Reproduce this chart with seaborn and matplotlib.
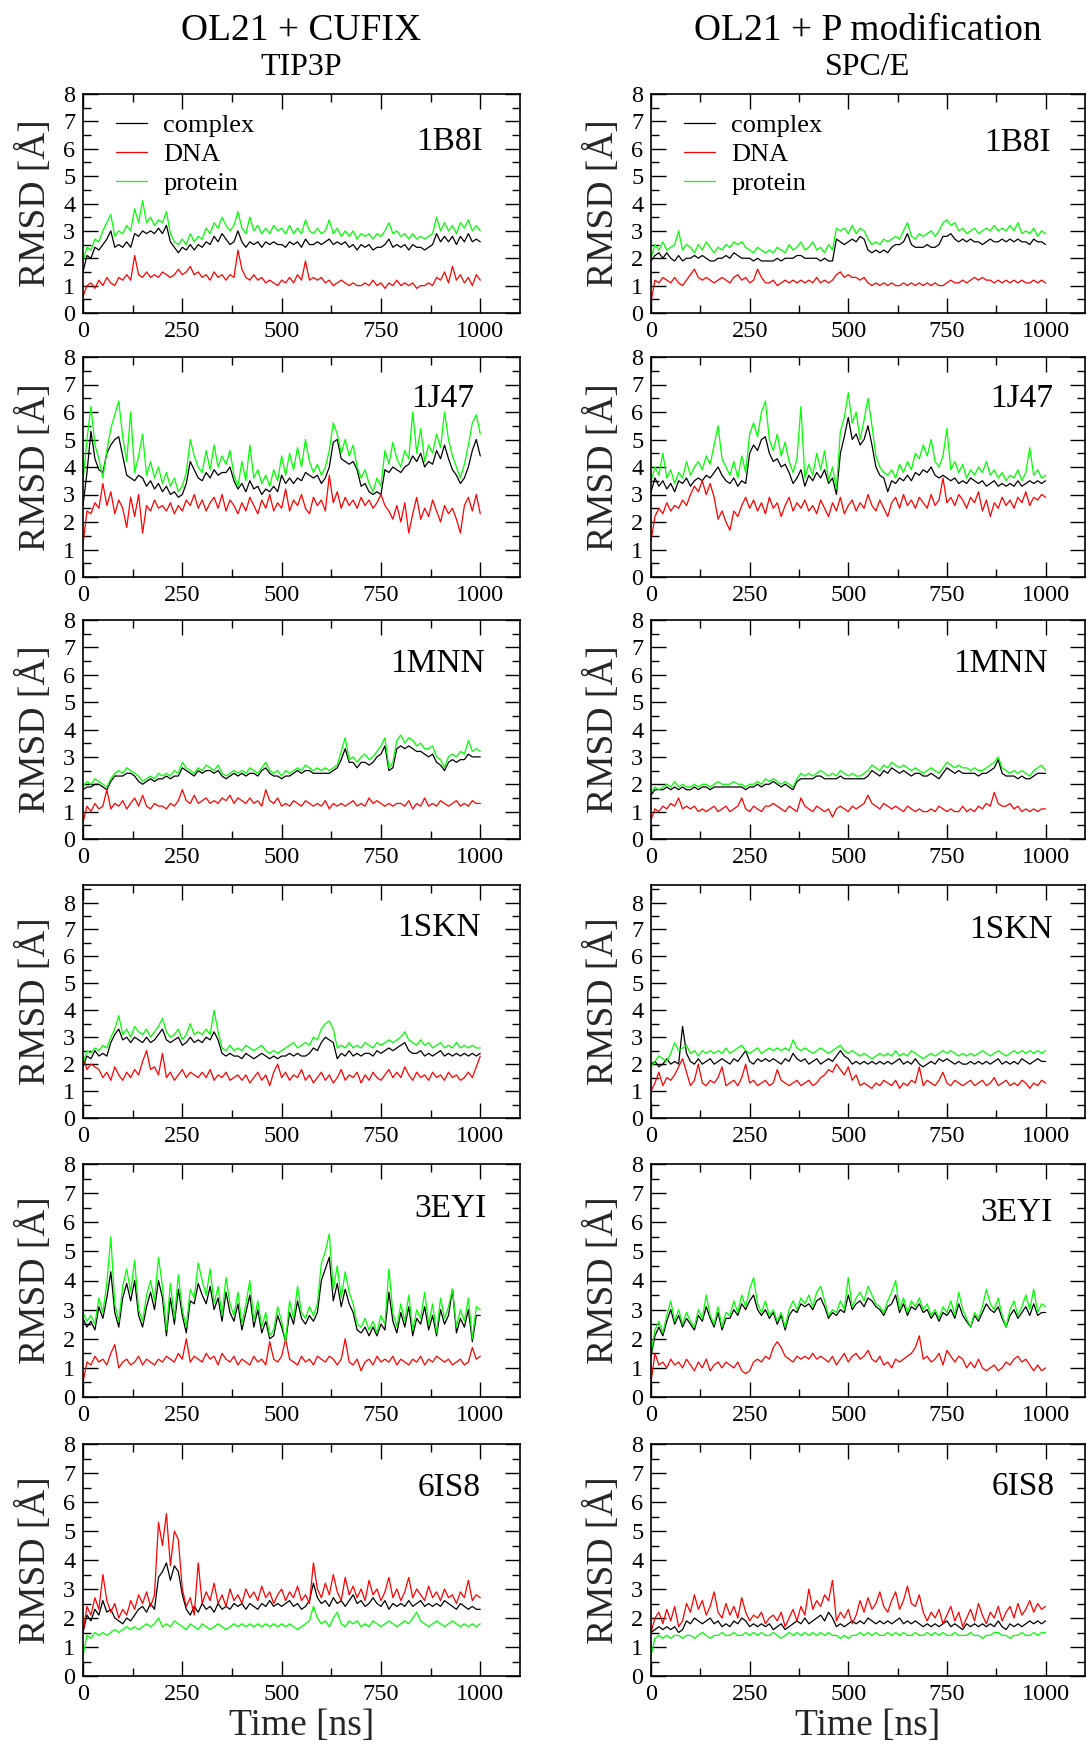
import numpy as np
import pandas as pd
import matplotlib
matplotlib.use("Agg")
import matplotlib.pyplot as plt
from matplotlib.ticker import MultipleLocator, FixedLocator
import seaborn as sns

# ---------------------------------------------------------------------------
# RMSD traces (Angstrom), sampled every 10 ns over the 1 us trajectories
# ---------------------------------------------------------------------------
TIME_NS = np.arange(0, 1001, 10)

SYSTEMS = ["1B8I", "1J47", "1MNN", "1SKN", "3EYI", "6IS8"]
COMPONENTS = ["complex", "DNA", "protein"]
COLORS = {"complex": "#000000", "DNA": "#ff0000", "protein": "#00ff00"}
COLUMN_TITLES = [("OL21 + CUFIX", "TIP3P"), ("OL21 + P modification", "SPC/E")]

# --- OL21 + CUFIX / TIP3P ---------------------------------------------------
cufix_1b8i_protein = [1.9,2.4,2.3,2.7,2.6,3.0,3.3,3.6,2.8,3.0,
 2.9,3.2,3.0,3.8,3.3,4.1,3.3,3.5,3.2,3.4,
 3.3,3.7,2.9,2.6,2.5,2.7,2.5,2.9,2.6,2.8,
 2.7,3.1,2.9,3.3,3.1,3.5,3.2,3.0,3.2,3.7,
 3.1,2.9,3.5,3.0,3.2,2.9,3.1,2.9,3.2,3.0,
 3.1,2.9,3.2,2.9,3.1,2.9,3.4,3.0,2.9,3.1,
 2.9,3.0,3.4,2.9,3.1,2.8,3.0,2.8,3.0,2.7,
 2.9,2.8,2.9,2.7,2.9,2.8,3.0,3.3,2.9,3.0,
 2.8,2.9,2.7,2.9,2.7,2.8,2.7,2.8,2.9,3.5,
 3.0,3.3,3.0,3.2,2.9,3.3,3.1,3.4,3.0,3.2,
 3.0]
cufix_1b8i_complex = [1.5,2.1,2.0,2.4,2.3,2.5,2.7,3.0,2.4,2.5,
 2.4,2.6,2.4,2.9,2.8,3.0,2.9,3.0,2.9,3.1,
 2.9,3.2,2.6,2.4,2.2,2.4,2.3,2.5,2.3,2.5,
 2.4,2.6,2.5,2.8,2.6,2.9,2.7,2.5,2.6,3.0,
 2.6,2.4,2.6,2.5,2.6,2.4,2.6,2.5,2.6,2.5,
 2.5,2.4,2.6,2.5,2.6,2.4,2.7,2.5,2.5,2.6,
 2.5,2.6,2.7,2.5,2.6,2.5,2.6,2.4,2.5,2.3,
 2.5,2.4,2.5,2.3,2.4,2.4,2.5,2.7,2.4,2.5,
 2.4,2.5,2.3,2.5,2.4,2.4,2.3,2.4,2.5,2.9,
 2.6,2.8,2.6,2.8,2.5,2.8,2.6,2.9,2.6,2.7,
 2.6]
cufix_1b8i_dna = [0.6,1.0,1.1,0.9,1.2,1.0,1.3,1.1,1.0,1.3,
 1.2,1.4,1.2,2.1,1.4,1.3,1.5,1.3,1.4,1.3,
 1.5,1.4,1.3,1.4,1.6,1.4,1.5,1.7,1.4,1.5,
 1.3,1.4,1.2,1.5,1.3,1.4,1.2,1.4,1.3,2.3,
 1.6,1.3,1.2,1.4,1.2,1.3,1.1,1.2,1.1,1.0,
 1.2,1.1,1.3,1.1,1.4,1.2,1.9,1.2,1.3,1.2,
 1.3,1.1,1.2,1.0,1.1,1.2,1.1,1.0,1.1,1.0,
 1.0,1.1,1.0,1.2,1.0,1.1,0.9,1.1,1.0,1.2,
 1.0,1.1,1.0,1.1,0.9,1.0,1.0,1.1,1.0,1.3,
 1.2,1.5,1.1,1.7,1.2,1.4,1.1,1.3,1.0,1.4,
 1.2]

cufix_1j47_protein = [3.5,5.0,6.2,4.8,4.3,3.6,4.6,5.4,5.9,6.4,
 5.1,4.2,6.0,3.8,4.4,5.2,3.7,4.2,3.6,4.0,
 3.4,3.8,3.3,3.6,3.1,3.3,3.8,5.0,4.4,4.0,
 3.8,4.6,3.9,4.8,4.0,4.4,4.1,4.6,3.7,3.3,
 4.2,3.5,4.8,3.6,3.9,3.4,3.7,3.3,3.9,3.5,
 4.4,3.7,4.5,3.9,4.7,4.0,5.0,4.2,3.8,4.1,
 3.7,4.0,4.6,5.6,5.2,4.5,5.0,4.4,4.8,4.0,
 3.6,3.9,3.4,3.1,3.6,3.3,4.6,4.1,4.9,4.3,
 4.0,4.6,4.3,6.0,4.5,5.4,4.2,4.8,4.5,5.2,
 4.7,6.0,5.0,4.4,4.0,3.6,4.1,4.8,5.6,5.9,
 5.2]
cufix_1j47_complex = [2.6,3.8,5.3,4.3,3.9,3.8,4.5,4.8,5.0,5.1,
 4.4,3.7,3.6,3.5,3.7,3.6,3.3,3.5,3.2,3.4,
 3.1,3.3,3.0,3.1,2.9,3.0,3.4,4.2,3.9,3.6,
 3.5,3.8,3.6,3.9,3.7,3.8,3.8,4.0,3.5,3.2,
 3.4,3.1,3.5,3.2,3.3,3.0,3.2,3.1,3.3,3.1,
 3.7,3.4,3.6,3.4,3.6,3.5,3.8,3.7,3.6,3.7,
 3.4,3.6,4.0,4.9,5.0,4.3,4.2,4.1,4.2,3.9,
 3.3,3.4,3.1,3.0,3.1,3.0,3.9,3.8,4.0,3.9,
 3.8,4.0,4.1,4.4,4.2,4.5,4.0,4.2,4.1,4.6,
 4.3,4.8,4.3,3.9,3.7,3.4,3.6,4.0,4.6,5.0,
 4.4]
cufix_1j47_dna = [1.2,2.4,2.3,2.7,2.5,3.4,2.6,3.1,2.3,2.8,
 2.5,1.8,2.9,2.2,3.0,1.6,2.6,2.4,2.8,2.5,
 2.6,2.4,2.7,2.3,2.6,2.4,2.8,2.6,3.0,2.5,
 2.8,2.4,2.7,2.9,2.5,3.0,2.4,2.8,2.6,2.3,
 2.7,2.4,2.9,2.6,2.3,2.8,2.5,3.0,2.4,2.7,
 2.5,3.2,2.4,2.8,2.6,3.0,2.5,2.3,2.9,2.6,
 2.8,2.4,3.7,2.7,3.1,2.5,2.9,2.6,2.8,2.5,
 2.9,2.6,2.8,2.5,2.7,3.0,2.6,2.4,2.1,2.6,
 2.0,2.7,1.6,2.3,2.9,2.1,2.5,2.2,2.8,2.4,
 2.0,2.6,2.3,2.5,2.1,1.6,2.6,2.9,2.4,3.0,
 2.3]

cufix_1mnn_protein = [1.9,2.1,2.0,2.2,2.1,2.0,1.9,2.2,2.4,2.5,
 2.4,2.6,2.5,2.4,2.3,2.1,2.2,2.3,2.2,2.4,
 2.3,2.4,2.3,2.5,2.4,2.8,2.6,2.5,2.4,2.6,
 2.5,2.7,2.6,2.5,2.7,2.4,2.3,2.4,2.5,2.4,
 2.5,2.4,2.6,2.5,2.4,2.6,2.8,2.5,2.4,2.5,
 2.3,2.5,2.4,2.5,2.6,2.5,2.7,2.6,2.5,2.6,
 2.5,2.6,2.5,2.6,2.7,3.2,3.7,2.9,3.0,2.8,
 3.0,3.1,2.9,3.0,3.2,3.4,3.7,2.6,2.8,3.6,
 3.8,3.5,3.7,3.6,3.4,3.5,3.3,3.3,3.4,3.0,
 2.9,2.6,3.0,3.1,3.0,3.2,3.1,3.6,3.2,3.3,
 3.2]
cufix_1mnn_complex = [1.8,1.9,1.9,2.0,2.0,1.9,1.8,2.1,2.3,2.3,
 2.3,2.4,2.4,2.3,2.1,2.0,2.1,2.2,2.1,2.2,
 2.2,2.3,2.2,2.3,2.3,2.6,2.5,2.4,2.3,2.5,
 2.4,2.5,2.5,2.4,2.5,2.3,2.2,2.3,2.4,2.3,
 2.4,2.3,2.4,2.4,2.3,2.5,2.6,2.4,2.3,2.3,
 2.2,2.3,2.3,2.4,2.5,2.4,2.5,2.5,2.4,2.4,
 2.4,2.4,2.4,2.5,2.6,2.9,3.3,2.8,2.8,2.6,
 2.8,2.8,2.7,2.8,3.0,3.1,3.4,2.5,2.6,3.3,
 3.4,3.3,3.4,3.3,3.2,3.2,3.1,3.0,3.1,2.8,
 2.7,2.5,2.8,2.9,2.8,2.9,2.9,3.1,3.0,3.0,
 3.0]
cufix_1mnn_dna = [0.6,1.2,1.0,1.3,1.1,1.2,1.8,1.1,1.3,1.2,
 1.4,1.1,1.3,1.5,1.2,1.6,1.2,1.1,1.3,1.2,
 1.2,1.1,1.3,1.2,1.4,1.8,1.4,1.3,1.6,1.3,
 1.4,1.5,1.3,1.4,1.3,1.5,1.4,1.6,1.3,1.5,
 1.4,1.3,1.5,1.3,1.4,1.2,1.8,1.4,1.3,1.5,
 1.2,1.3,1.2,1.4,1.3,1.2,1.4,1.3,1.2,1.3,
 1.2,1.4,1.1,1.3,1.2,1.3,1.2,1.3,1.4,1.2,
 1.3,1.2,1.5,1.3,1.4,1.3,1.2,1.3,1.2,1.3,
 1.3,1.2,1.4,1.1,1.3,1.2,1.5,1.2,1.3,1.2,
 1.4,1.3,1.2,1.3,1.4,1.2,1.3,1.2,1.4,1.3,
 1.3]

cufix_1skn_protein = [2.0,2.5,2.4,2.6,2.5,2.7,2.6,3.0,3.3,3.8,
 3.1,3.3,3.0,3.4,3.2,3.1,3.3,3.0,3.2,3.4,
 3.7,3.2,3.0,3.1,3.3,2.9,3.1,3.5,3.1,3.2,
 3.1,3.3,3.1,4.0,3.2,2.6,2.5,2.7,2.5,2.6,
 2.5,2.7,2.6,2.5,2.6,2.7,2.5,2.4,2.5,2.4,
 2.5,2.6,2.7,2.8,2.6,2.7,2.8,2.7,3.0,2.9,
 3.3,3.5,3.6,3.3,2.6,2.7,2.6,2.8,2.6,2.7,
 2.6,2.8,2.7,2.6,2.8,2.7,2.8,2.9,2.8,2.9,
 3.0,3.2,2.9,2.8,2.7,2.9,2.7,2.8,2.6,2.7,
 2.8,2.6,2.7,2.6,2.8,2.6,2.7,2.6,2.7,2.6,
 2.6]
cufix_1skn_complex = [1.9,2.3,2.2,2.5,2.3,2.4,2.3,2.8,3.1,3.3,
 2.9,3.0,2.8,3.0,2.9,2.8,3.0,2.8,2.9,3.1,
 3.3,2.9,2.8,2.9,3.0,2.7,2.8,3.0,2.8,2.9,
 2.8,3.0,2.9,3.2,2.9,2.4,2.3,2.4,2.3,2.3,
 2.2,2.4,2.3,2.2,2.3,2.4,2.3,2.2,2.3,2.2,
 2.3,2.3,2.4,2.3,2.4,2.3,2.3,2.4,2.6,2.5,
 2.8,3.0,2.9,2.8,2.2,2.4,2.3,2.5,2.3,2.4,
 2.3,2.4,2.4,2.3,2.5,2.4,2.5,2.6,2.5,2.6,
 2.7,2.8,2.5,2.4,2.4,2.5,2.3,2.4,2.3,2.4,
 2.5,2.3,2.4,2.3,2.4,2.3,2.4,2.3,2.4,2.3,
 2.4]
cufix_1skn_dna = [2.3,1.8,2.0,1.9,1.8,1.5,1.7,1.4,1.9,1.6,
 1.4,1.7,1.5,1.8,1.6,2.1,2.5,1.8,1.9,1.6,
 2.4,1.5,1.7,1.4,1.6,1.8,1.5,1.7,1.6,1.5,
 1.7,1.5,1.8,1.4,1.6,1.5,1.7,1.4,1.5,1.6,
 1.4,1.6,1.3,1.5,1.7,1.4,1.6,1.2,1.7,2.0,
 1.5,1.7,1.4,1.6,1.5,1.8,1.4,1.6,1.3,1.5,
 1.7,1.4,1.6,1.3,1.5,1.8,1.4,1.6,1.5,1.7,
 1.3,1.6,1.4,1.7,1.5,1.4,1.6,1.8,1.5,1.7,
 1.5,1.9,1.6,1.4,1.7,1.5,1.6,1.4,1.7,1.5,
 1.6,1.4,1.7,1.5,1.6,1.4,1.5,1.7,1.5,1.9,
 2.3]

cufix_3eyi_protein = [2.9,2.6,2.8,2.5,3.4,2.9,3.9,5.5,3.2,2.6,
 3.8,4.4,3.6,4.7,3.0,2.6,3.5,4.0,3.3,4.8,
 3.8,2.3,3.9,2.7,4.2,3.0,2.4,3.7,3.4,4.6,
 4.0,3.5,4.4,3.2,3.8,2.8,4.1,3.2,2.8,3.6,
 2.5,3.2,4.0,2.6,3.3,2.4,2.9,2.1,2.3,3.1,
 2.6,1.9,3.3,2.7,3.8,2.9,2.7,3.1,2.8,3.2,
 4.6,5.0,5.6,3.7,4.5,3.4,4.3,3.6,3.2,2.5,
 2.4,2.7,2.3,2.6,2.2,2.8,2.5,4.4,2.9,2.4,
 3.2,2.6,3.5,2.3,3.0,2.7,3.6,2.5,3.2,2.2,
 3.4,2.7,3.1,3.7,2.4,3.0,2.6,3.4,2.0,3.1,
 3.0]
cufix_3eyi_complex = [2.7,2.4,2.6,2.3,3.1,2.7,3.4,4.3,2.9,2.4,
 3.4,3.9,3.3,4.0,2.8,2.4,3.1,3.6,3.0,4.0,
 3.4,2.1,3.4,2.5,3.7,2.8,2.2,3.3,3.2,3.9,
 3.5,3.2,3.8,3.0,3.4,2.6,3.6,2.9,2.6,3.2,
 2.3,2.9,3.5,2.4,3.0,2.2,2.6,2.0,2.1,2.8,
 2.4,1.9,2.9,2.5,3.3,2.7,2.5,2.8,2.6,2.9,
 4.0,4.4,4.8,3.3,3.9,3.1,3.7,3.2,2.9,2.3,
 2.2,2.4,2.1,2.4,2.1,2.5,2.3,3.6,2.6,2.2,
 2.9,2.4,3.1,2.1,2.7,2.5,3.1,2.3,2.8,2.1,
 3.0,2.5,2.8,3.7,2.2,2.7,2.4,3.0,1.9,2.8,
 2.8]
cufix_3eyi_dna = [0.5,1.2,1.1,1.4,1.2,1.3,1.1,1.5,1.8,1.0,
 1.2,1.3,1.1,1.2,1.4,1.1,1.3,1.2,1.1,1.3,
 1.2,1.4,1.3,1.2,1.5,1.3,2.0,1.2,1.4,1.3,
 1.2,1.5,1.3,1.4,1.1,1.5,1.3,1.2,1.4,1.1,
 1.3,1.2,1.1,1.4,1.2,1.3,1.1,1.9,1.3,1.2,
 1.4,2.0,1.3,1.2,1.1,1.4,1.2,1.3,1.1,1.4,
 1.3,1.2,1.4,1.3,1.1,1.3,2.0,1.2,1.1,1.3,
 0.9,1.2,1.3,1.1,1.4,1.2,1.3,1.2,1.4,1.1,
 1.3,1.2,1.1,1.3,1.2,1.4,1.1,1.3,1.2,1.4,
 1.3,1.2,1.3,1.1,1.2,1.3,1.1,1.2,1.7,1.3,
 1.4]

cufix_6is8_protein = [0.7,1.4,1.3,1.5,1.4,1.5,1.4,1.5,1.6,1.5,
 1.6,1.7,1.6,1.7,1.6,1.7,1.8,1.7,1.8,2.0,
 1.7,1.8,1.7,1.9,1.8,1.7,1.6,1.8,1.7,1.6,
 1.8,1.7,1.6,1.7,1.8,1.7,1.6,1.7,1.8,1.7,
 1.8,1.7,1.8,1.7,1.8,1.7,1.8,1.7,1.8,1.7,
 1.8,1.7,1.8,1.7,1.6,1.7,1.8,1.9,2.4,2.0,
 1.8,1.9,1.7,2.0,2.2,1.8,1.7,1.9,1.8,1.9,
 1.7,1.8,1.7,1.9,1.8,1.7,1.8,1.9,1.8,1.7,
 1.8,1.9,1.8,2.0,2.2,1.9,1.8,1.7,1.8,1.9,
 1.8,1.7,1.8,1.9,1.8,1.7,1.8,1.7,1.8,1.7,
 1.8]
cufix_6is8_complex = [1.5,2.1,1.9,2.3,2.1,2.6,2.2,2.3,2.0,1.9,
 1.8,2.0,1.9,2.1,2.3,2.4,2.2,2.5,2.3,3.4,
 3.6,3.9,3.3,3.8,3.6,2.8,2.3,2.1,2.4,2.2,
 2.5,2.3,2.4,2.2,2.5,2.3,2.4,2.3,2.5,2.4,
 2.5,2.3,2.5,2.4,2.3,2.5,2.4,2.6,2.4,2.5,
 2.4,2.5,2.6,2.4,2.5,2.3,2.4,2.6,3.2,2.7,
 2.5,2.6,2.4,2.7,2.5,2.6,2.4,2.6,2.8,2.5,
 2.6,2.4,2.5,2.7,2.5,2.4,2.6,2.3,2.5,2.4,
 2.5,2.4,2.6,2.4,2.5,2.6,2.4,2.5,2.4,2.5,
 2.4,2.6,2.5,2.4,2.3,2.5,2.4,2.3,2.4,2.3,
 2.3]
cufix_6is8_dna = [1.5,2.4,2.1,2.7,2.3,3.5,2.6,2.2,2.5,2.0,
 2.3,2.1,2.6,2.3,2.8,2.5,2.9,2.4,2.8,5.3,
 4.5,5.6,3.8,5.0,4.7,3.0,2.4,2.7,2.1,3.9,
 2.5,2.9,2.6,3.2,2.5,2.8,2.4,3.0,2.6,2.8,
 2.5,3.0,2.7,2.9,2.6,3.1,2.7,2.9,2.5,2.8,
 3.0,2.6,2.9,2.7,3.1,2.6,2.8,2.5,3.9,3.0,
 2.7,3.2,2.8,3.5,2.9,2.6,3.4,2.8,3.1,2.7,
 3.0,2.6,3.3,2.8,3.0,2.6,2.9,3.4,2.7,3.0,
 2.6,2.9,3.4,2.7,3.0,2.8,2.6,3.1,2.7,2.9,
 2.6,3.0,2.7,2.8,2.5,2.9,2.7,3.3,2.6,2.8,
 2.7]

# --- OL21 + P modification / SPC/E -----------------------------------------
pmod_1b8i_protein = [2.0,2.5,2.3,2.6,2.3,2.4,2.5,3.0,2.3,2.5,
 2.4,2.2,2.5,2.3,2.6,2.4,2.2,2.4,2.3,2.5,
 2.4,2.6,2.5,2.6,2.4,2.3,2.2,2.4,2.3,2.2,
 2.3,2.2,2.4,2.3,2.2,2.5,2.3,2.4,2.6,2.3,
 2.4,2.6,2.3,2.4,2.2,2.5,2.3,3.1,3.0,3.1,
 2.9,3.2,2.9,3.1,3.0,2.7,2.5,2.6,2.5,2.7,
 2.6,2.7,2.8,2.7,3.0,3.3,2.8,2.7,2.9,2.8,
 2.9,3.0,2.8,3.0,3.3,3.4,3.2,3.3,3.0,3.1,
 2.9,3.0,3.1,2.9,3.0,3.1,3.0,3.2,3.0,3.1,
 3.0,3.2,3.0,3.3,2.9,3.0,2.9,3.1,2.8,3.0,
 2.9]
pmod_1b8i_complex = [1.9,2.1,2.2,2.0,2.2,2.0,1.9,2.1,1.9,2.0,
 2.0,2.1,2.0,2.1,2.0,1.9,1.9,2.0,2.0,2.1,
 2.0,2.2,2.1,2.0,2.0,2.0,1.9,2.0,1.9,1.9,
 1.9,1.9,2.0,1.9,2.0,2.0,2.0,2.1,2.1,2.0,
 2.0,2.0,2.0,1.9,2.0,1.9,1.9,2.7,2.6,2.5,
 2.6,2.7,2.6,2.8,2.7,2.3,2.2,2.3,2.2,2.3,
 2.2,2.4,2.5,2.5,2.6,2.9,2.5,2.4,2.4,2.4,
 2.5,2.4,2.4,2.5,2.8,2.8,2.9,2.7,2.6,2.7,
 2.6,2.7,2.6,2.6,2.5,2.6,2.7,2.6,2.6,2.7,
 2.6,2.7,2.6,2.7,2.6,2.6,2.5,2.7,2.6,2.6,
 2.5]
pmod_1b8i_dna = [0.4,1.2,1.1,1.3,1.2,1.1,1.3,1.1,1.0,1.2,
 1.4,1.6,1.3,1.2,1.3,1.2,1.1,1.2,1.3,1.2,
 1.1,1.3,1.4,1.2,1.3,1.1,1.2,1.6,1.3,1.1,
 1.1,1.2,1.0,1.1,1.2,1.1,1.2,1.1,1.2,1.1,
 1.2,1.1,1.3,1.1,1.2,1.1,1.2,1.4,1.5,1.3,
 1.4,1.3,1.3,1.2,1.3,1.1,1.0,1.1,1.0,1.1,
 1.0,1.1,1.0,1.0,1.1,1.0,1.1,1.0,1.1,1.0,
 1.1,1.0,1.1,1.0,1.0,1.1,1.2,1.1,1.1,1.2,
 1.1,1.2,1.3,1.2,1.3,1.2,1.2,1.1,1.2,1.1,
 1.2,1.1,1.2,1.1,1.2,1.1,1.1,1.2,1.1,1.2,
 1.1]

pmod_1j47_protein = [3.5,4.0,3.7,4.5,3.6,3.9,3.4,3.8,3.6,4.2,
 3.7,4.0,4.2,3.9,4.4,4.1,4.8,5.5,4.3,4.0,
 3.7,4.2,3.6,4.4,3.8,5.2,5.6,5.1,6.0,6.4,
 5.0,4.6,5.2,4.4,4.9,4.2,3.8,4.3,6.2,3.6,
 4.1,3.7,4.5,3.9,4.6,3.5,4.0,3.2,5.3,5.8,
 6.7,5.6,6.0,5.0,5.7,6.5,5.5,4.4,4.0,3.8,
 3.7,3.9,3.6,4.1,3.8,4.2,3.9,4.5,4.3,4.8,
 4.4,5.0,4.2,4.0,4.4,5.4,3.9,4.2,3.8,4.1,
 3.6,3.9,3.7,4.0,3.8,4.2,3.7,3.9,3.6,3.8,
 3.5,3.7,3.6,3.9,3.5,3.8,4.7,3.7,3.9,3.6,
 3.7]
pmod_1j47_complex = [3.1,3.6,3.3,3.5,3.2,3.4,3.1,3.5,3.4,3.6,
 3.3,3.5,3.6,3.5,3.7,3.6,3.8,4.0,3.7,3.5,
 3.4,3.6,3.3,3.5,3.4,4.5,4.8,4.6,5.0,5.1,
 4.5,4.2,4.3,4.0,4.1,3.8,3.4,3.6,3.9,3.3,
 3.7,3.5,3.8,3.6,3.9,3.4,3.6,3.0,4.5,5.1,
 5.8,5.0,5.2,4.8,5.0,5.5,4.8,4.0,3.7,3.6,
 3.1,3.5,3.4,3.6,3.5,3.7,3.5,3.8,3.7,3.9,
 3.8,4.0,3.7,3.6,3.7,3.6,3.5,3.6,3.4,3.5,
 3.4,3.6,3.5,3.4,3.5,3.3,3.4,3.5,3.3,3.4,
 3.3,3.4,3.3,3.5,3.3,3.4,3.5,3.4,3.5,3.4,
 3.5]
pmod_1j47_dna = [1.3,2.2,2.5,2.3,2.7,2.4,2.6,2.5,2.8,2.6,
 3.0,3.3,3.1,3.5,3.0,3.4,2.9,2.1,2.4,2.0,
 1.7,2.4,2.2,2.6,2.9,2.5,2.8,2.4,2.7,2.3,
 2.9,2.5,2.7,2.2,2.6,2.9,2.4,2.7,2.5,2.8,
 2.4,2.6,2.3,2.8,2.5,2.2,2.7,2.4,2.9,2.3,
 2.6,2.8,2.4,2.7,2.5,3.0,2.6,2.4,2.8,2.5,
 2.2,2.7,2.9,2.5,3.0,2.6,2.8,2.5,2.9,2.7,
 2.5,3.0,2.6,2.8,3.6,2.7,2.9,2.6,3.0,2.8,
 2.5,2.9,2.7,3.1,2.4,2.8,2.2,2.7,2.5,2.9,
 2.6,2.8,2.5,2.9,2.7,3.1,2.6,2.9,2.8,3.0,
 2.9]

pmod_1mnn_protein = [1.7,1.9,1.8,1.9,2.0,1.9,2.1,1.9,2.0,1.9,
 1.9,2.0,1.9,2.0,2.0,1.9,2.0,2.1,2.0,2.0,
 2.0,2.1,2.0,2.0,1.9,2.0,2.0,2.1,2.0,2.2,
 2.1,2.2,2.1,2.0,2.1,2.0,1.9,2.2,2.4,2.3,
 2.4,2.3,2.4,2.5,2.4,2.3,2.4,2.3,2.5,2.4,
 2.3,2.4,2.3,2.3,2.4,2.5,2.7,2.6,2.5,2.7,
 2.6,2.8,2.7,2.6,2.7,2.6,2.5,2.6,2.5,2.4,
 2.5,2.6,2.5,2.4,2.6,2.8,2.7,2.6,2.7,2.6,
 2.6,2.5,2.6,2.5,2.5,2.6,2.7,2.8,3.0,2.6,
 2.5,2.4,2.5,2.4,2.5,2.4,2.3,2.5,2.6,2.7,
 2.5]
pmod_1mnn_complex = [1.6,1.8,1.8,1.8,1.9,1.8,1.9,1.8,1.9,1.8,
 1.8,1.9,1.8,1.9,1.9,1.8,1.9,1.9,1.9,1.9,
 1.9,1.9,1.9,1.9,1.8,1.9,1.9,2.0,1.9,2.0,
 2.0,2.1,2.0,1.9,2.0,1.9,1.8,2.1,2.2,2.2,
 2.2,2.2,2.3,2.3,2.2,2.2,2.2,2.2,2.3,2.2,
 2.2,2.2,2.2,2.2,2.2,2.3,2.5,2.4,2.3,2.5,
 2.4,2.6,2.5,2.4,2.5,2.4,2.3,2.4,2.4,2.3,
 2.3,2.4,2.3,2.2,2.4,2.6,2.5,2.4,2.5,2.4,
 2.4,2.4,2.4,2.3,2.4,2.4,2.5,2.6,2.9,2.4,
 2.3,2.3,2.3,2.2,2.3,2.2,2.2,2.3,2.4,2.4,
 2.4]
pmod_1mnn_dna = [0.7,1.1,1.0,1.2,1.1,1.3,1.2,1.5,1.1,1.2,
 1.1,1.2,1.0,1.1,1.0,1.1,1.2,1.0,1.1,1.2,
 1.0,1.1,1.2,1.5,1.1,1.0,1.2,1.1,1.0,1.2,
 1.2,1.3,1.2,1.1,1.0,1.2,1.1,1.0,1.5,1.2,
 1.1,1.0,1.2,1.1,1.0,1.1,0.8,1.1,1.2,1.1,
 1.0,1.2,1.1,1.2,1.3,1.6,1.3,1.2,1.1,1.3,
 1.2,1.1,1.2,1.1,1.0,1.2,1.1,1.0,1.1,1.0,
 1.0,1.1,1.0,1.2,1.1,1.0,1.1,1.0,1.0,1.2,
 1.0,1.1,1.0,1.2,1.1,1.3,1.2,1.7,1.3,1.2,
 1.2,1.3,1.1,1.2,1.0,1.1,1.0,1.1,1.0,1.1,
 1.1]

pmod_1skn_protein = [1.9,2.1,2.3,2.2,2.1,2.4,2.8,2.5,2.6,2.7,
 2.4,2.5,2.3,2.5,2.4,2.5,2.4,2.5,2.4,2.6,
 2.4,2.5,2.6,2.7,2.5,2.4,2.5,2.6,2.4,2.5,
 2.6,2.5,2.6,2.5,2.6,2.5,2.9,2.6,2.5,2.6,
 2.5,2.4,2.5,2.6,2.5,2.4,2.5,2.6,2.7,2.5,
 2.4,2.5,2.4,2.3,2.4,2.3,2.2,2.3,2.4,2.3,
 2.4,2.3,2.5,2.3,2.4,2.3,2.5,2.4,2.3,2.2,
 2.3,2.4,2.3,2.4,2.5,2.4,2.5,2.4,2.3,2.4,
 2.3,2.4,2.3,2.4,2.5,2.4,2.3,2.4,2.5,2.4,
 2.3,2.4,2.5,2.4,2.5,2.4,2.5,2.4,2.5,2.4,
 2.5]
pmod_1skn_complex = [2.0,2.1,1.9,2.0,2.2,2.0,2.1,2.0,3.4,2.4,
 2.1,2.0,2.2,2.0,2.1,2.2,2.0,2.1,2.2,2.1,
 2.0,2.2,2.1,2.3,2.5,2.1,2.0,2.2,2.1,2.2,
 2.1,2.2,2.1,2.0,2.2,2.1,2.4,2.2,2.1,2.2,
 2.0,2.1,2.2,2.0,2.1,2.2,2.1,2.3,2.5,2.3,
 2.2,2.0,2.1,2.0,2.1,2.0,2.1,2.0,2.1,2.0,
 2.1,2.0,2.1,2.2,2.0,2.1,2.0,2.2,2.0,1.9,
 2.0,2.1,2.0,2.2,2.1,2.2,2.1,2.0,2.1,2.0,
 2.0,2.1,2.0,2.1,2.0,2.1,2.0,2.1,2.2,2.0,
 2.1,2.0,2.1,2.0,2.2,2.1,2.0,2.1,2.2,2.1,
 2.1]
pmod_1skn_dna = [1.0,1.3,1.7,1.2,1.5,1.4,1.6,1.9,2.2,1.7,
 1.2,1.4,2.0,1.3,1.2,1.4,1.3,1.5,1.9,1.2,
 1.3,1.4,1.2,1.5,2.0,1.3,1.4,1.2,1.3,1.4,
 1.2,1.3,1.8,1.4,1.3,1.2,1.3,1.4,1.2,1.3,
 1.4,1.2,1.3,1.5,1.6,1.8,1.7,2.0,1.8,1.6,
 1.9,1.4,1.6,1.2,1.3,1.2,1.1,1.3,1.2,1.4,
 1.3,1.2,1.4,1.1,1.3,1.2,1.4,1.3,1.9,1.2,
 1.4,1.3,1.2,1.4,1.7,1.3,1.2,1.4,1.3,1.2,
 1.3,1.4,1.2,1.3,1.4,1.2,1.3,1.5,1.2,1.3,
 1.4,1.2,1.3,1.2,1.4,1.3,1.1,1.3,1.2,1.4,
 1.3]

pmod_3eyi_protein = [1.5,2.3,2.6,2.2,2.8,3.3,2.6,3.0,2.5,2.9,
 2.6,2.4,3.0,2.7,3.5,2.8,2.5,3.1,2.4,2.9,
 2.8,3.3,2.9,3.5,3.1,3.7,4.1,3.2,2.9,3.3,
 2.8,3.0,2.6,2.9,2.4,3.0,3.3,3.0,3.4,3.2,
 3.5,3.1,3.6,3.8,3.3,2.8,3.0,2.9,3.3,3.0,
 4.1,3.1,3.4,3.6,3.3,3.8,3.5,3.2,3.1,2.9,
 3.3,3.6,4.0,3.0,3.4,2.9,3.3,3.1,3.4,3.0,
 3.2,2.8,3.0,2.7,3.1,2.9,3.3,2.8,3.6,3.0,
 2.7,2.4,2.9,2.7,3.1,3.7,3.2,3.0,3.4,2.8,
 2.4,3.0,3.3,2.8,3.1,3.5,3.0,3.7,2.9,3.2,
 3.1]
pmod_3eyi_complex = [1.4,2.1,2.4,2.1,2.6,3.0,2.5,2.8,2.4,2.7,
 2.5,2.3,2.8,2.6,3.1,2.7,2.4,2.9,2.3,2.7,
 2.7,3.0,2.8,3.2,3.0,3.3,3.5,3.0,2.8,3.0,
 2.7,2.9,2.5,2.8,2.3,2.8,3.0,2.9,3.2,3.1,
 3.2,3.0,3.3,3.4,3.1,2.7,2.9,2.8,3.0,2.9,
 3.5,3.0,3.2,3.3,3.1,3.4,3.3,3.1,3.0,2.8,
 3.1,3.2,3.5,2.9,3.2,2.8,3.1,3.0,3.2,2.9,
 3.0,2.7,2.9,2.6,2.9,2.8,3.0,2.7,3.2,2.8,
 2.6,2.4,2.8,2.6,2.9,3.2,3.0,2.9,3.1,2.7,
 2.4,2.8,3.0,2.7,2.9,3.1,2.8,3.2,2.8,2.9,
 2.9]
pmod_3eyi_dna = [0.5,1.5,1.1,1.2,1.0,1.3,1.1,1.2,1.0,1.3,
 1.1,0.9,1.2,1.0,1.3,0.9,1.1,1.2,1.0,1.2,
 1.1,1.0,1.2,0.9,0.8,0.9,1.2,1.3,1.2,1.4,
 1.3,1.7,1.9,1.7,1.4,1.3,1.2,1.4,1.3,1.4,
 1.3,1.5,1.3,1.4,1.3,1.2,1.4,1.1,1.3,1.5,
 1.2,1.4,1.5,1.3,1.4,1.6,1.3,1.2,1.4,1.1,
 1.2,1.0,1.3,1.2,1.3,1.4,1.5,1.7,2.1,1.3,
 1.4,1.2,1.3,1.5,1.1,1.6,1.4,1.2,1.4,1.3,
 1.0,1.2,1.0,1.3,1.0,0.9,1.0,1.1,0.9,1.0,
 1.2,1.1,1.3,1.4,1.2,1.3,1.1,0.9,1.1,0.9,
 1.0]

pmod_6is8_protein = [0.7,1.3,1.4,1.3,1.4,1.3,1.4,1.4,1.3,1.4,
 1.4,1.3,1.4,1.5,1.4,1.3,1.4,1.4,1.5,1.4,
 1.4,1.5,1.4,1.4,1.5,1.4,1.5,1.4,1.5,1.4,
 1.4,1.5,1.4,1.3,1.4,1.5,1.4,1.5,1.4,1.5,
 1.4,1.5,1.4,1.5,1.4,1.5,1.4,1.4,1.3,1.4,
 1.3,1.4,1.4,1.5,1.4,1.5,1.4,1.5,1.4,1.4,
 1.5,1.4,1.5,1.4,1.5,1.4,1.4,1.5,1.4,1.4,
 1.5,1.4,1.5,1.4,1.5,1.4,1.4,1.5,1.4,1.4,
 1.4,1.5,1.4,1.4,1.3,1.4,1.4,1.5,1.5,1.4,
 1.4,1.3,1.4,1.4,1.5,1.4,1.4,1.5,1.4,1.5,
 1.5]
pmod_6is8_complex = [1.5,1.6,1.7,1.6,1.7,1.6,1.7,1.5,1.6,1.9,
 1.8,2.0,1.9,1.8,1.9,2.0,1.8,1.9,1.7,1.8,
 1.7,1.9,1.8,2.0,1.9,1.7,1.8,1.7,1.8,1.7,
 1.8,1.6,1.7,1.8,1.6,1.7,1.8,1.9,1.8,2.0,
 1.8,1.9,2.0,2.1,1.9,2.2,2.0,1.7,1.8,1.7,
 1.8,1.9,1.8,1.9,1.8,2.0,1.9,1.8,1.9,1.8,
 1.9,1.8,1.9,2.0,1.8,1.9,1.8,1.9,1.8,1.7,
 1.8,1.7,1.8,1.7,1.8,1.9,1.7,1.8,1.7,1.6,
 1.8,1.7,1.8,1.7,1.8,1.7,1.8,1.7,1.9,1.7,
 1.6,1.8,1.7,1.8,1.7,1.8,1.9,1.8,1.9,1.8,
 1.9]
pmod_6is8_dna = [1.5,2.0,2.2,1.8,2.3,1.9,2.4,1.7,1.9,2.5,
 2.2,2.8,2.3,2.6,2.1,2.4,2.9,2.2,2.0,2.5,
 2.1,2.4,2.0,2.7,2.2,1.9,2.1,2.0,2.2,1.8,
 2.0,2.1,1.9,2.2,1.7,2.0,2.3,1.9,2.4,2.1,
 3.0,2.3,2.6,2.4,2.8,2.6,3.3,1.9,2.2,2.0,
 2.3,1.8,2.1,2.6,2.2,2.7,2.3,2.5,2.9,2.4,
 2.2,2.6,2.9,2.3,2.6,3.1,2.5,2.4,2.8,2.2,
 1.9,2.2,2.0,2.3,1.8,2.1,2.4,1.9,2.2,1.7,
 2.0,2.3,1.9,2.5,2.1,1.8,2.2,2.0,2.4,1.9,
 2.2,2.4,2.0,2.5,2.1,2.3,2.6,2.2,2.5,2.3,
 2.4]

TRACES = [
    {   # OL21 + CUFIX, TIP3P
        "1B8I": (cufix_1b8i_complex, cufix_1b8i_dna, cufix_1b8i_protein),
        "1J47": (cufix_1j47_complex, cufix_1j47_dna, cufix_1j47_protein),
        "1MNN": (cufix_1mnn_complex, cufix_1mnn_dna, cufix_1mnn_protein),
        "1SKN": (cufix_1skn_complex, cufix_1skn_dna, cufix_1skn_protein),
        "3EYI": (cufix_3eyi_complex, cufix_3eyi_dna, cufix_3eyi_protein),
        "6IS8": (cufix_6is8_complex, cufix_6is8_dna, cufix_6is8_protein),
    },
    {   # OL21 + P modification, SPC/E
        "1B8I": (pmod_1b8i_complex, pmod_1b8i_dna, pmod_1b8i_protein),
        "1J47": (pmod_1j47_complex, pmod_1j47_dna, pmod_1j47_protein),
        "1MNN": (pmod_1mnn_complex, pmod_1mnn_dna, pmod_1mnn_protein),
        "1SKN": (pmod_1skn_complex, pmod_1skn_dna, pmod_1skn_protein),
        "3EYI": (pmod_3eyi_complex, pmod_3eyi_dna, pmod_3eyi_protein),
        "6IS8": (pmod_6is8_complex, pmod_6is8_dna, pmod_6is8_protein),
    },
]

# ---------------------------------------------------------------------------
# Figure layout (pixel boxes on a 1087 x 1746 canvas)
# ---------------------------------------------------------------------------
W, H = 1087, 1746
COL_X = [(83, 520), (651, 1085)]
ROW_Y = [(94, 313), (357, 577), (620, 839), (885, 1118), (1164, 1397), (1444, 1676)]
Y_TOP = [8, 8, 8, 8.65, 8, 8]
TAG_POS = [[(0.915, 0.78), (0.922, 0.776)],
           [(0.895, 0.81), (0.926, 0.81)],
           [(0.919, 0.80), (0.915, 0.80)],
           [(0.910, 0.815), (0.926, 0.81)],
           [(0.923, 0.81), (0.926, 0.79)],
           [(0.910, 0.81), (0.929, 0.815)]]

sns.set_theme(style="ticks")
plt.rcParams["font.family"] = ["Liberation Serif", "DejaVu Serif"]
plt.rcParams["axes.edgecolor"] = "black"
plt.rcParams["axes.linewidth"] = 1.2
plt.rcParams["text.color"] = "black"
plt.rcParams["xtick.color"] = "black"
plt.rcParams["ytick.color"] = "black"

fig = plt.figure(figsize=(W / 100, H / 100), dpi=100)
fig.patch.set_facecolor("white")

for c, (x0, x1) in enumerate(COL_X):
    for r, (y0, y1) in enumerate(ROW_Y):
        ax = fig.add_axes([x0 / W, 1 - y1 / H, (x1 - x0) / W, (y1 - y0) / H])
        ax.set_facecolor("white")
        system = SYSTEMS[r]
        series = TRACES[c][system]
        df = pd.DataFrame({
            "time": np.tile(TIME_NS, len(COMPONENTS)),
            "rmsd": np.concatenate([np.asarray(s, dtype=float) for s in series]),
            "part": np.repeat(COMPONENTS, len(TIME_NS)),
        })
        sns.lineplot(data=df, x="time", y="rmsd", hue="part",
                     hue_order=COMPONENTS, palette=COLORS, linewidth=0.9,
                     estimator=None, sort=False, legend=False, ax=ax)

        ax.set_xlim(0, 1100)
        ax.set_ylim(0, Y_TOP[r])
        ax.xaxis.set_major_locator(FixedLocator([0, 250, 500, 750, 1000]))
        ax.xaxis.set_minor_locator(FixedLocator([125, 375, 625, 875]))
        ax.yaxis.set_major_locator(FixedLocator(range(0, 9)))
        ax.yaxis.set_minor_locator(MultipleLocator(0.5))
        ax.tick_params(which="both", direction="in", top=True, right=True,
                       width=1.0, color="black")
        ax.tick_params(which="major", length=10.5, labelsize=17.5)
        ax.tick_params(axis="x", which="major", pad=6)
        ax.tick_params(axis="y", which="major", pad=5.5)
        ax.tick_params(which="minor", length=5.5)
        for sp in ax.spines.values():
            sp.set_visible(True)
            sp.set_linewidth(1.2)
            sp.set_color("black")

        ax.set_ylabel("RMSD [Å]", fontsize=27)
        ax.yaxis.set_label_coords(-0.068, 0.5)
        if r == len(ROW_Y) - 1:
            ax.set_xlabel("Time [ns]", fontsize=27)
            ax.xaxis.set_label_coords(0.5, -0.14)
        else:
            ax.set_xlabel("")

        tx, ty = TAG_POS[r][c]
        ax.text(tx, ty, system, transform=ax.transAxes, ha="right",
                va="center", fontsize=24)

        if r == 0:
            handles = ax.get_lines()[:3]
            ax.legend(handles, COMPONENTS, loc="upper left",
                      bbox_to_anchor=(0.075, 0.912), frameon=False,
                      fontsize=19, handlelength=1.2, handletextpad=0.6,
                      labelspacing=0.22, borderpad=0, borderaxespad=0)

# column headers
for c, (title, water) in enumerate(COLUMN_TITLES):
    cx = (COL_X[c][0] + COL_X[c][1]) / 2 / W
    fig.text(cx, 1 - 40 / H, title, ha="center", va="baseline", fontsize=27)
    fig.text(cx, 1 - 75 / H, water, ha="center", va="baseline", fontsize=23)

fig.savefig("out.png", dpi=100, facecolor="white")
